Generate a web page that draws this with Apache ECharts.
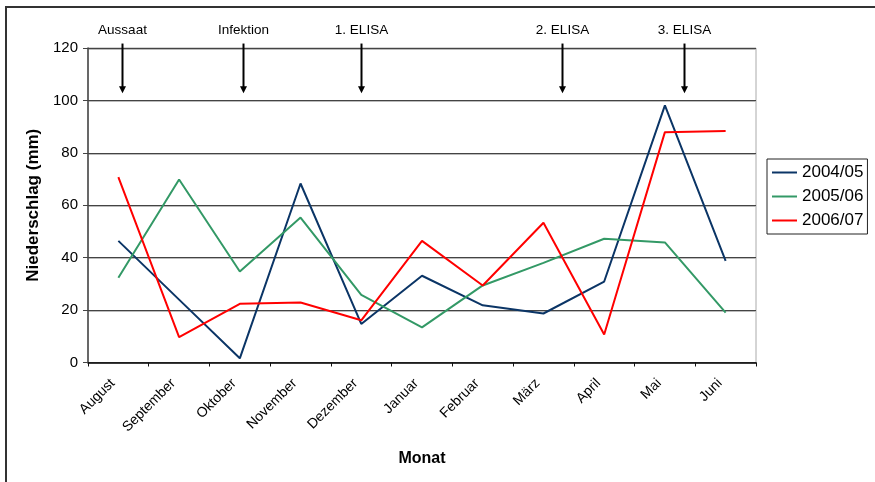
<!DOCTYPE html>
<html><head><meta charset="utf-8">
<script src="https://cdn.jsdelivr.net/npm/echarts@6/dist/echarts.min.js"></script>
<style>html,body{margin:0;padding:0;background:#fff}#c{width:875px;height:482px}</style>
</head><body><div id="c"></div>
<script>
const categories = ['August','September','Oktober','November','Dezember','Januar','Februar','März','April','Mai','Juni'];
const s2004 = [46.4, 24.0, 1.6, 68.3, 14.7, 33.1, 21.8, 18.7, 30.9, 98.1, 38.8];
const s2005 = [32.3, 69.8, 34.7, 55.3, 25.8, 13.4, 29.4, 38.0, 47.2, 45.8, 19.0];
const s2006 = [70.7, 9.7, 22.4, 22.9, 16.1, 46.4, 29.4, 53.3, 10.7, 87.9, 88.3];
const seriesNames = ['2004/05','2005/06','2006/07'];
const yTicks = [0, 20, 40, 60, 80, 100, 120];
const annotationLabels = ['Aussaat','Infektion','1. ELISA','2. ELISA','3. ELISA'];
const annotationIndex = [0.055, 2.047, 4.0, 7.3, 9.32];

const FONT = 'Liberation Sans, Arial, sans-serif';
const chart = echarts.init(document.getElementById('c'), null, {renderer:'canvas'});
const colors = ['#0b3566', '#339966', '#ff0000'];
const option = {
  animation: false,
  textStyle: {fontFamily: FONT},
  grid: {left: 88, right: 119, top: 48, bottom: 119.5, show: true, borderColor: '#aaaaaa', borderWidth: 1, backgroundColor: 'transparent'},
  legend: {
    orient: 'vertical', left: 767, top: 159,
    data: seriesNames,
    itemWidth: 25, itemHeight: 2, itemGap: 7,
    padding: [5, 4, 5, 5],
    borderColor: '#222', borderWidth: 1,
    icon: 'rect',
    textStyle: {fontSize: 17, color: '#000', fontFamily: FONT, padding: [0,0,0,0]}
  },
  xAxis: {
    type: 'category', data: categories, boundaryGap: true,
    name: 'Monat', nameLocation: 'middle', nameGap: 88,
    nameTextStyle: {fontSize: 16, fontWeight: 'bold', color: '#000', fontFamily: FONT},
    axisLine: {lineStyle: {color: '#111', width: 1.5}},
    axisTick: {show: true, alignWithLabel: false, length: 4, lineStyle: {color: '#111'}},
    axisLabel: {rotate: 45, fontSize: 14, color: '#000', margin: 13, padding: [0, 8, 0, 0], fontFamily: FONT, interval: 0}
  },
  yAxis: {
    type: 'value', min: yTicks[0], max: yTicks[yTicks.length-1], interval: 20,
    name: 'Niederschlag (mm)', nameLocation: 'middle', nameGap: 46, nameRotate: 90,
    nameTextStyle: {fontSize: 17, fontWeight: 'bold', color: '#000', fontFamily: FONT},
    axisLine: {show: true, lineStyle: {color: '#444', width: 1.5}},
    axisTick: {show: true, length: 5, lineStyle: {color: '#444'}},
    axisLabel: {fontSize: 15, color: '#000', margin: 10, fontFamily: FONT},
    splitLine: {lineStyle: {color: '#444', width: 1, shadowColor: '#bbbbbb', shadowOffsetY: 1, shadowBlur: 0}}
  },
  series: [
    {name: seriesNames[0], type: 'line', data: s2004, symbol: 'none', lineStyle: {color: colors[0], width: 2}, itemStyle: {color: colors[0]}},
    {name: seriesNames[1], type: 'line', data: s2005, symbol: 'none', lineStyle: {color: colors[1], width: 2}, itemStyle: {color: colors[1]}},
    {name: seriesNames[2], type: 'line', data: s2006, symbol: 'none', lineStyle: {color: colors[2], width: 2}, itemStyle: {color: colors[2]}}
  ]
};
chart.setOption(option);

// annotations positioned via axis scales
const x0 = chart.convertToPixel({xAxisIndex: 0}, categories[0]);
const x1 = chart.convertToPixel({xAxisIndex: 0}, categories[1]);
const step = x1 - x0;
const yLabel = chart.convertToPixel({yAxisIndex: 0}, 126.7);
const yTop = chart.convertToPixel({yAxisIndex: 0}, 121.7);
const yTip = chart.convertToPixel({yAxisIndex: 0}, 102.7);
const graphics = [{
  type: 'rect', shape: {x: 6, y: 7, width: 1000, height: 1000},
  style: {fill: 'none', stroke: '#333', lineWidth: 2}, silent: true, z: 100
}];
annotationLabels.forEach((lab, i) => {
  const x = Math.round(x0 + annotationIndex[i] * step) + 0.5;
  graphics.push({type: 'text', x: x, y: yLabel, style: {text: lab, fontSize: 13.5, fontFamily: FONT, fill: '#000', align: 'center', verticalAlign: 'middle'}, z: 100});
  graphics.push({type: 'line', shape: {x1: x, y1: yTop, x2: x, y2: yTip - 6}, style: {stroke: '#000', lineWidth: 2}, z: 100});
  graphics.push({type: 'polygon', shape: {points: [[x - 3.5, yTip - 7], [x + 3.5, yTip - 7], [x, yTip]]}, style: {fill: '#000'}, z: 100});
});
chart.setOption({graphic: graphics});
</script></body></html>
